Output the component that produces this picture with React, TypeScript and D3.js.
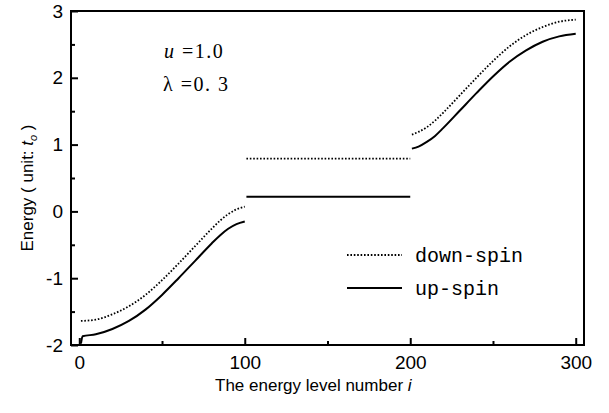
import React, { useEffect, useRef } from "react";
import * as d3 from "d3";

const width = 609;
const height = 413;

// energy levels
const lowLevels = [1, 10, 20, 30, 40, 50, 60, 70, 80, 85, 90, 95, 100];
const downLow = [-1.64, -1.62, -1.54, -1.42, -1.25, -1.03, -0.78, -0.52, -0.26, -0.14, -0.04, 0.03, 0.07];
const upLowLevels = [1, 2, 10, 20, 30, 40, 50, 60, 70, 80, 85, 90, 95, 100];
const upLow = [-1.98, -1.87, -1.84, -1.76, -1.64, -1.47, -1.25, -1.0, -0.74, -0.48, -0.36, -0.26, -0.19, -0.15];

const flatLevels = [101, 200];
const downFlat = [0.79, 0.79];
const upFlat = [0.22, 0.22];

const highLevels = [201, 205, 210, 215, 220, 230, 240, 250, 260, 270, 280, 290, 300];
const downHigh = [1.15, 1.19, 1.26, 1.36, 1.48, 1.74, 2.0, 2.25, 2.47, 2.64, 2.76, 2.84, 2.87];
const upHigh = [0.94, 0.97, 1.04, 1.13, 1.25, 1.51, 1.77, 2.02, 2.24, 2.41, 2.54, 2.62, 2.66];

const xTicks = [0, 100, 200, 300];
const xMinor = [50, 150, 250];
const yTicks = [-2, -1, 0, 1, 2, 3];
const yMinor = [-1.5, -0.5, 0.5, 1.5, 2.5];

const margin = { top: 11, right: 25, bottom: 68, left: 71 };

function Chart() {
  const ref = useRef<SVGSVGElement>(null);

  useEffect(() => {
    document.body.style.margin = "0";
    const svg = d3.select(ref.current);
    svg.selectAll("*").remove();

    const x = d3.scaleLinear().domain([-5, 305]).range([margin.left, width - margin.right]);
    const y = d3.scaleLinear().domain([-2, 3]).range([height - margin.bottom, margin.top]);

    const line = d3
      .line<[number, number]>()
      .curve(d3.curveMonotoneX)
      .x((d) => x(d[0]))
      .y((d) => y(d[1]));

    const zip = (levels: number[], vals: number[]) =>
      levels.map((l, i) => [l, vals[i]] as [number, number]);

    const downSegs = [zip(lowLevels, downLow), zip(flatLevels, downFlat), zip(highLevels, downHigh)];
    const upSegs = [zip(upLowLevels, upLow), zip(flatLevels, upFlat), zip(highLevels, upHigh)];

    const g = svg.append("g");

    g.selectAll(".down")
      .data(downSegs)
      .enter()
      .append("path")
      .attr("class", "down")
      .attr("fill", "none")
      .attr("stroke", "#000")
      .attr("stroke-width", 1.8)
      .attr("stroke-dasharray", "1.6 1.8")
      .attr("d", (d) => line(d));

    g.selectAll(".up")
      .data(upSegs)
      .enter()
      .append("path")
      .attr("class", "up")
      .attr("fill", "none")
      .attr("stroke", "#000")
      .attr("stroke-width", 2)
      .attr("d", (d) => line(d));

    // axes, ticks inward
    const bottom = height - margin.bottom;
    const fontAxis = "Liberation Sans, Arial, sans-serif";
    const fmt = (d: d3.NumberValue) => String(d); // plain hyphen minus like the original

    const xAxis = svg
      .append("g")
      .attr("transform", `translate(0,${bottom})`)
      .call(d3.axisBottom(x).tickValues(xTicks).tickSize(-7).tickPadding(11).tickFormat(fmt));
    svg
      .append("g")
      .attr("transform", `translate(0,${bottom})`)
      .call(d3.axisBottom(x).tickValues(xMinor).tickSize(-4).tickFormat(() => ""));

    const yAxis = svg
      .append("g")
      .attr("transform", `translate(${margin.left},0)`)
      .call(d3.axisLeft(y).tickValues(yTicks).tickSize(-7).tickPadding(8).tickFormat(fmt));
    svg
      .append("g")
      .attr("transform", `translate(${margin.left},0)`)
      .call(d3.axisLeft(y).tickValues(yMinor).tickSize(-4).tickFormat(() => ""));

    svg.selectAll(".domain").remove();
    svg.selectAll(".tick line").attr("stroke", "#000").attr("stroke-width", 2);
    [xAxis, yAxis].forEach((a) =>
      a.selectAll("text").attr("font-family", fontAxis).attr("font-size", 19).attr("fill", "#000")
    );

    svg
      .append("rect")
      .attr("x", margin.left)
      .attr("y", margin.top)
      .attr("width", width - margin.left - margin.right)
      .attr("height", height - margin.top - margin.bottom)
      .attr("fill", "none")
      .attr("stroke", "#000")
      .attr("stroke-width", 2);

    // axis titles
    svg
      .append("text")
      .attr("x", 215)
      .attr("y", 391)
      .attr("font-family", fontAxis)
      .attr("font-size", 17)
      .html('The energy level number <tspan font-style="italic">i</tspan>');

    svg
      .append("text")
      .attr("transform", `translate(33,188) rotate(-90)`)
      .attr("text-anchor", "middle")
      .attr("font-family", fontAxis)
      .attr("font-size", 17)
      .html(
        'Energy ( unit: <tspan font-style="italic">t</tspan><tspan font-style="italic" font-size="11" dy="4">o</tspan><tspan dy="-4"> )</tspan>'
      );

    // parameters
    const serif = "Liberation Serif, Times New Roman, serif";
    svg
      .append("text")
      .attr("x", 164)
      .attr("y", 58)
      .attr("font-family", serif)
      .attr("font-size", 20)
      .attr("letter-spacing", 1.5)
      .html('<tspan font-style="italic">u</tspan> =1.0');
    svg
      .append("text")
      .attr("x", 163)
      .attr("y", 91)
      .attr("font-family", serif)
      .attr("font-size", 20)
      .attr("letter-spacing", 1.5)
      .text("λ =0. 3");

    // legend
    const legend = [
      { label: "down-spin", dash: "1.6 1.8", y: 255 },
      { label: "up-spin", dash: null, y: 288 },
    ];
    const lg = svg.append("g");
    legend.forEach((d) => {
      lg.append("line")
        .attr("x1", 347)
        .attr("x2", 402)
        .attr("y1", d.y)
        .attr("y2", d.y)
        .attr("stroke", "#000")
        .attr("stroke-width", d.dash ? 1.8 : 2)
        .attr("stroke-dasharray", d.dash);
      lg.append("text")
        .attr("x", 415)
        .attr("y", d.y + 7)
        .attr("font-family", "Liberation Mono, Courier New, monospace")
        .attr("font-size", 20)
        .text(d.label);
    });
  }, []);

  return <svg ref={ref} width={width} height={height} style={{ display: "block", background: "#fff" }} />;
}

export default function App() {
  return <Chart />;
}
